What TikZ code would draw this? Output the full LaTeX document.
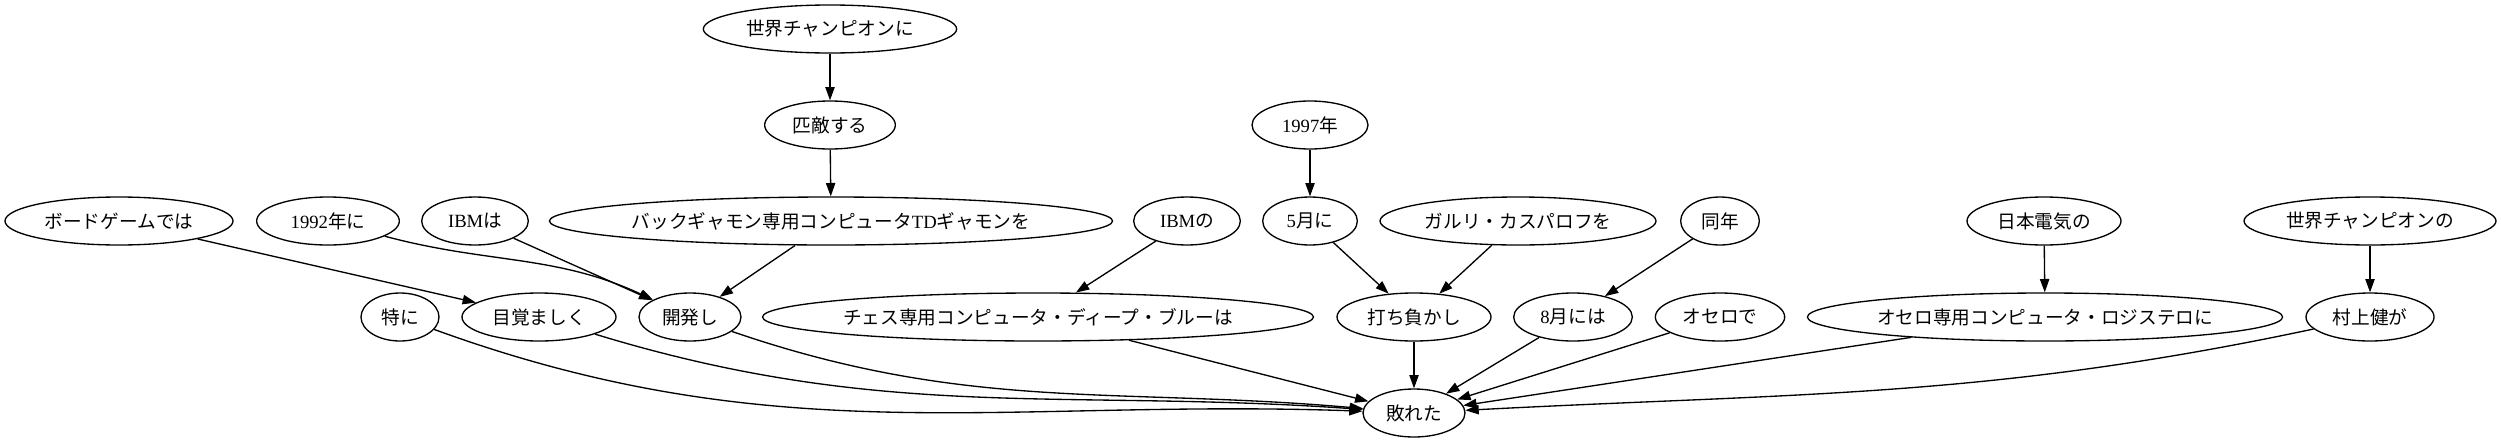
\documentclass[tikz,border=0pt]{standalone}
\usepackage{fontspec}
\setmainfont{Liberation Serif}
\newfontfamily\jpfont{Noto Sans CJK JP}
\usetikzlibrary{shapes.geometric,arrows.meta}
\newcommand{\seriftext}[1]{{\rmfamily #1}}

\begin{document}
\begin{tikzpicture}[x=0.75pt,y=0.75pt]
        \tikzstyle{every node}=[font=\jpfont\fontsize{14pt}{17pt}\selectfont]
        \tikzstyle{word}=[draw, ellipse, line width=1pt, minimum height=36pt, inner sep=0pt]
        \tikzstyle{dep}=[line width=1pt, -{Triangle[length=10pt,width=7pt]}]

        \useasboundingbox (0,0) rectangle (2501,-443);

        \node[word, minimum width=190pt] (champ) at (830,-29) {世界チャンピオンに};

        \node[word, minimum width=98pt] (rival) at (830,-125) {匹敵する};
        \node[word, minimum width=87pt] (y1997) at (1310,-125) {\seriftext{1997}年};

        \node[word, minimum width=171pt] (board) at (119,-221) {ボードゲームでは};
        \node[word, minimum width=107pt] (y1992) at (328,-221) {\seriftext{1992}年に};
        \node[word, minimum width=80pt] (ibmha) at (475,-221) {\seriftext{IBM}は};
        \node[word, minimum width=419pt] (tdg) at (831,-221) {バックギャモン専用コンピュータ\seriftext{TD}ギャモンを};
        \node[word, minimum width=80pt] (ibmno) at (1187,-221) {\seriftext{IBM}の};
        \node[word, minimum width=71pt] (may) at (1310,-221) {\seriftext{5}月に};
        \node[word, minimum width=207pt] (kasparov) at (1518,-221) {ガルリ・カスパロフを};
        \node[word, minimum width=59pt] (dounen) at (1720,-221) {同年};
        \node[word, minimum width=115.5pt] (nec) at (2044,-221) {日本電気の};
        \node[word, minimum width=189pt] (champno) at (2370,-221) {世界チャンピオンの};

        \node[word, minimum width=58.5pt] (tokuni) at (400,-317) {特に};
        \node[word, minimum width=115.5pt] (mezamashiku) at (539,-317) {目覚ましく};
        \node[word, minimum width=76.5pt] (kaihatsu) at (690,-317) {開発し};
        \node[word, minimum width=410pt] (deepblue) at (1038,-317) {チェス専用コンピュータ・ディープ・ブルーは};
        \node[word, minimum width=115.5pt] (uchimakashi) at (1414,-317) {打ち負かし};
        \node[word, minimum width=89pt] (aug) at (1573,-317) {\seriftext{8}月には};
        \node[word, minimum width=97pt] (othello) at (1720,-317) {オセロで};
        \node[word, minimum width=354pt] (logistello) at (2045,-317) {オセロ専用コンピュータ・ロジステロに};
        \node[word, minimum width=96pt] (murakami) at (2370,-317) {村上健が};

        \node[word, minimum width=76.5pt] (yabureta) at (1414,-413) {敗れた};

        \draw[dep] (champ) -- (rival);
        \draw[dep] (rival) -- (tdg);
        \draw[dep] (tdg) -- (kaihatsu);
        \draw[dep] (board) -- (mezamashiku);
        \draw[dep] (y1992) to[out=-15, in=155] (kaihatsu);
        \draw[dep] (ibmha) -- (kaihatsu);
        \draw[dep] (ibmno) -- (deepblue);
        \draw[dep] (y1997) -- (may);
        \draw[dep] (may) -- (uchimakashi);
        \draw[dep] (kasparov) -- (uchimakashi);
        \draw[dep] (dounen) -- (aug);
        \draw[dep] (nec) -- (logistello);
        \draw[dep] (champno) -- (murakami);

        \draw[dep] (tokuni) to[out=-20, in=178] (yabureta);
        \draw[dep] (mezamashiku) to[out=-17, in=176] (yabureta);
        \draw[dep] (kaihatsu) to[out=-19, in=175] (yabureta);
        \draw[dep] (deepblue) -- (yabureta);
        \draw[dep] (uchimakashi) -- (yabureta);
        \draw[dep] (aug) -- (yabureta);
        \draw[dep] (othello) -- (yabureta);
        \draw[dep] (logistello) -- (yabureta);
        \draw[dep] (murakami) to[out=192, in=3] (yabureta);

    \end{tikzpicture}
\end{document}
